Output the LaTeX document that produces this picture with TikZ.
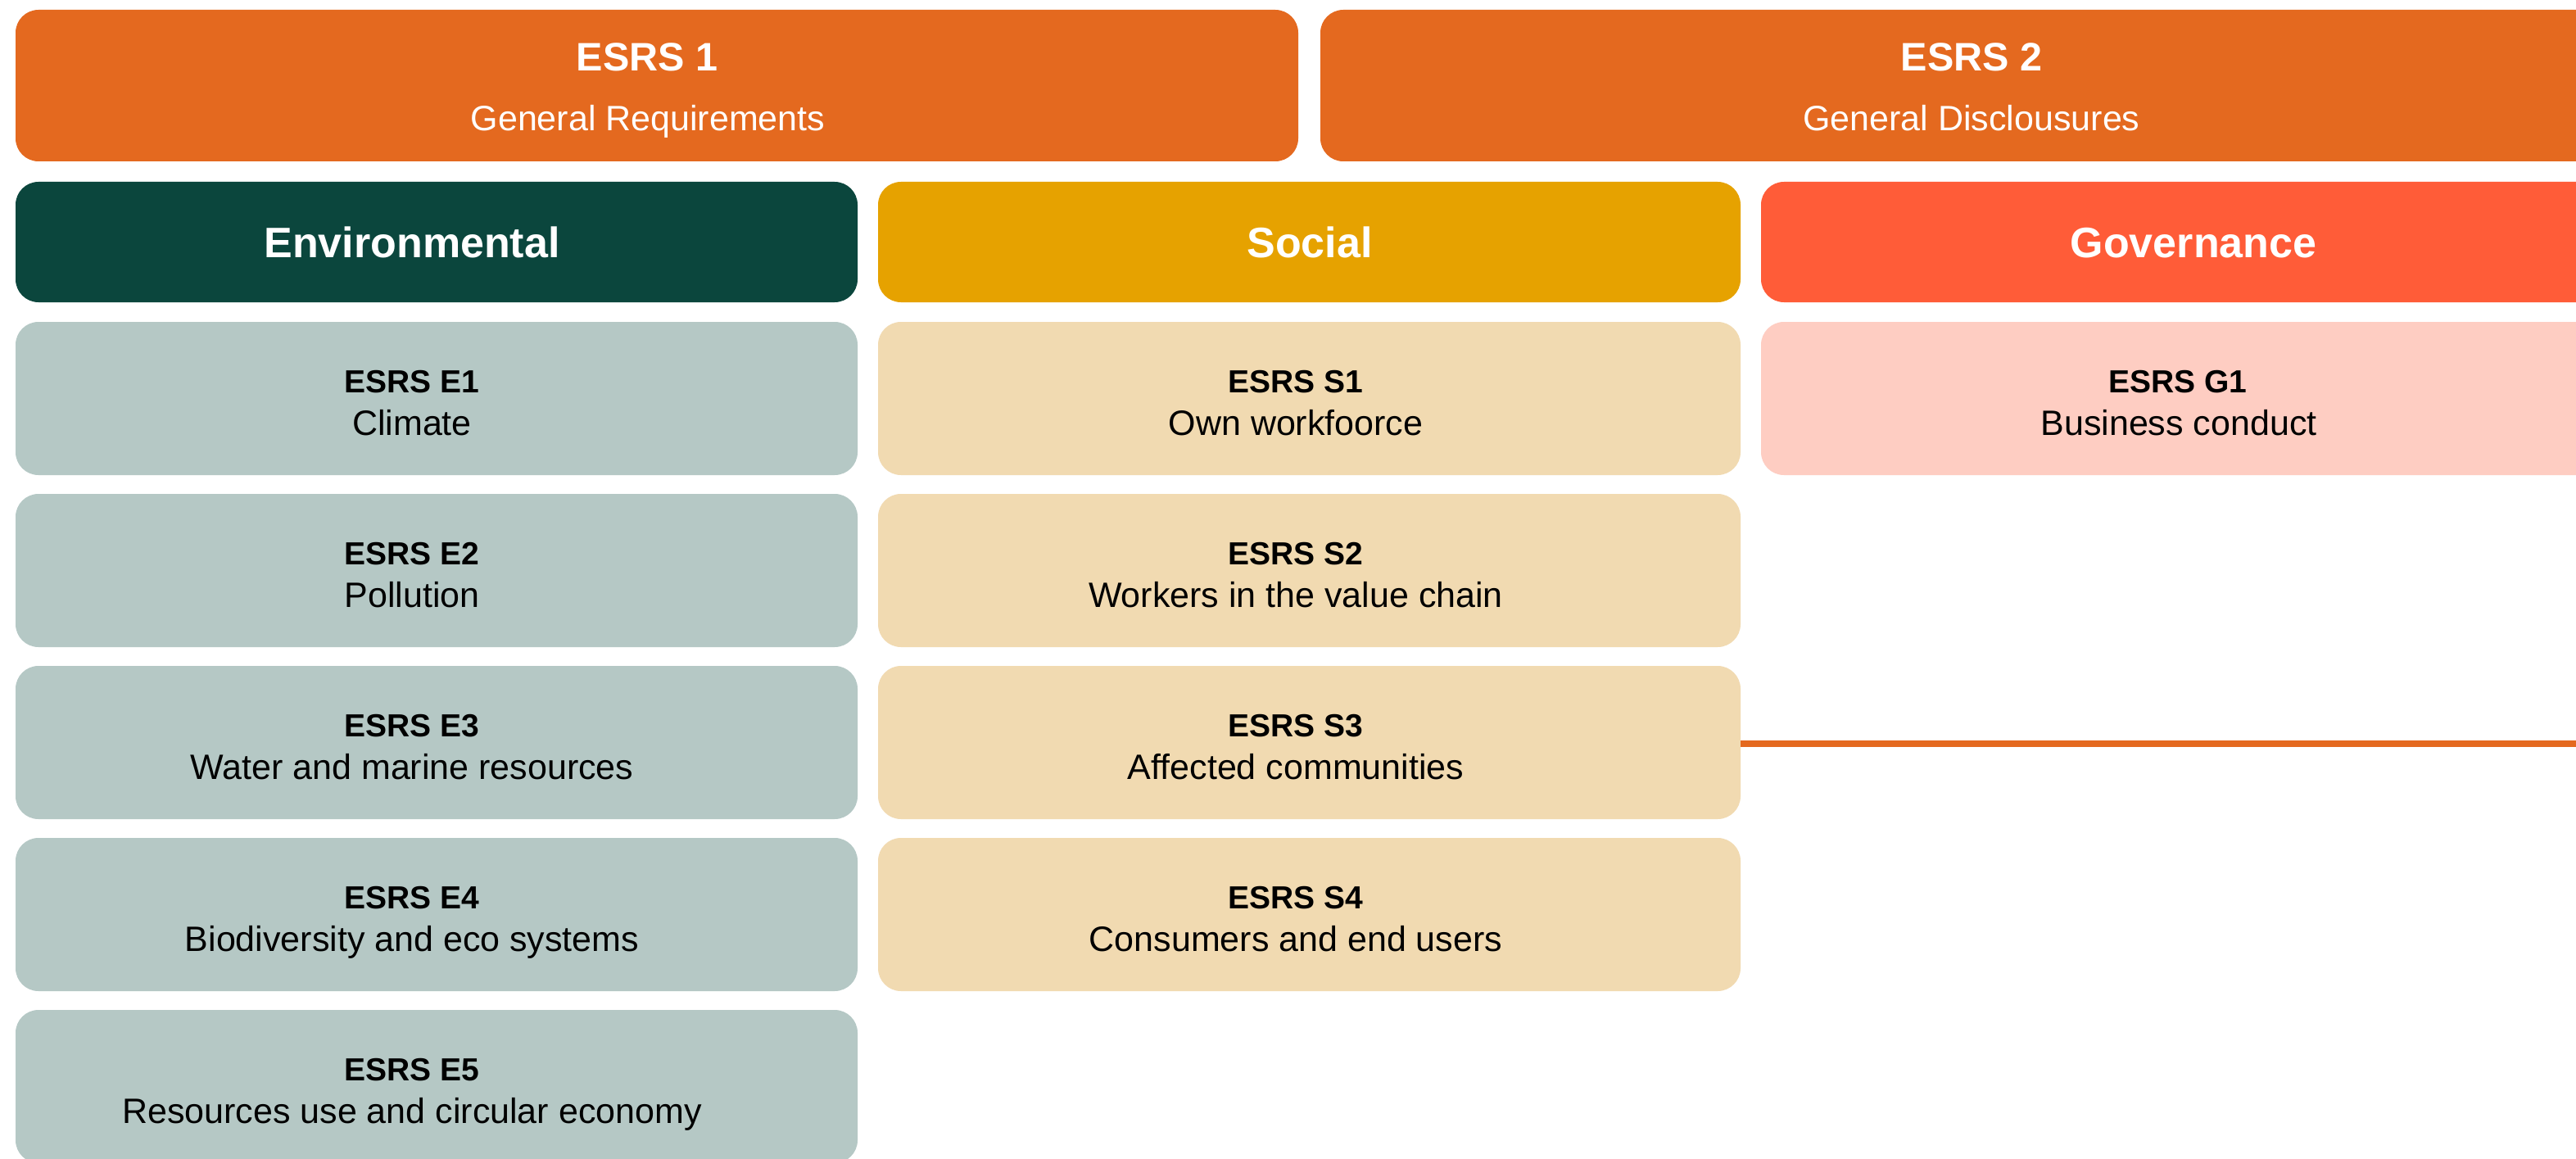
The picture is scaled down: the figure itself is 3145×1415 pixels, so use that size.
\documentclass[tikz,border=0pt]{standalone}
\usepackage{fontspec}
\setmainfont{Liberation Sans}
\definecolor{esrsor}{HTML}{E4691F}
\definecolor{envdark}{HTML}{0B463D}
\definecolor{socdark}{HTML}{E6A200}
\definecolor{govdark}{HTML}{FF5C38}
\definecolor{envlight}{HTML}{B5C8C5}
\definecolor{soclight}{HTML}{F1DAB1}
\definecolor{govlight}{HTML}{FECDC2}
\begin{document}
\begin{tikzpicture}[x=1pt,y=-1pt,
  box/.style={rectangle, rounded corners=28pt, inner sep=0pt, draw=none},
  topbox/.style={box, fill=esrsor, minimum height=185pt},
  headbox/.style={box, minimum height=147pt},
  subbox/.style={box, minimum height=187pt},
  toptitle/.style={anchor=base, inner sep=0pt, text=white, font=\fontsize{48.5}{58}\selectfont\bfseries},
  topsub/.style={anchor=base, inner sep=0pt, text=white, font=\fontsize{43}{52}\selectfont},
  headtitle/.style={anchor=base, inner sep=0pt, text=white, font=\fontsize{52}{62}\selectfont\bfseries},
  subtitle/.style={anchor=base, inner sep=0pt, text=black, font=\fontsize{39}{47}\selectfont\bfseries},
  subtext/.style={anchor=base, inner sep=0pt, text=black, font=\fontsize{43}{52}\selectfont},
  link/.style={draw=esrsor, line width=8pt}
]
\useasboundingbox (0,0) rectangle (3145,1415);
\clip (0,0) rectangle (3145,1415);
\fill[white] (0,0) rectangle (3145,1415);

% top row
\node[topbox, minimum width=1566pt] (esrs1) at (802,104.5) {};
\node[topbox, minimum width=1592pt] (esrs2) at (2408,104.5) {};
\node[toptitle] (esrs1t) at (790,87) {ESRS 1};
\node[topsub] (esrs1s) at (791,160) {General Requirements};
\node[toptitle] (esrs2t) at (2407,87) {ESRS 2};
\node[topsub] (esrs2s) at (2407,160) {General Disclousures};

% headers
\node[headbox, fill=envdark, minimum width=1028pt] (env) at (533,295.5) {};
\node[headbox, fill=socdark, minimum width=1053pt] (soc) at (1598.5,295.5) {};
\node[headbox, fill=govdark, minimum width=1056pt] (gov) at (2678,295.5) {};
\node[headtitle] (envt) at (503,315) {Environmental};
\node[headtitle] (soct) at (1599,315) {Social};
\node[headtitle] (govt) at (2678,315) {Governance};

% environmental column
\foreach \i/\code/\txt in {0/E1/Climate, 1/E2/Pollution, 2/E3/Water and marine resources, 3/E4/Biodiversity and eco systems, 4/E5/Resources use and circular economy}{
  \pgfmathsetmacro{\top}{393+210*\i}
  \node[subbox, fill=envlight, minimum width=1028pt] (box\code) at (533,\top+93.5) {};
  \node[subtitle] (title\code) at (503,\top+86) {ESRS \code};
  \node[subtext] (text\code) at (503,\top+138) {\txt};
}

% social column
\foreach \i/\code/\txt in {0/S1/Own workfoorce, 1/S2/Workers in the value chain, 2/S3/Affected communities, 3/S4/Consumers and end users}{
  \pgfmathsetmacro{\top}{393+210*\i}
  \node[subbox, fill=soclight, minimum width=1053pt] (box\code) at (1598.5,\top+93.5) {};
  \node[subtitle] (title\code) at (1582,\top+86) {ESRS \code};
  \node[subtext] (text\code) at (1582,\top+138) {\txt};
}

% governance column
\node[subbox, fill=govlight, minimum width=1056pt] (boxG1) at (2678,486.5) {};
\node[subtitle] (titleG1) at (2659,479) {ESRS G1};
\node[subtext] (textG1) at (2660,531) {Business conduct};

% connector
\coordinate (lineend) at (3160,908);
\draw[link] (boxS3.east |- 0,908) -- (lineend);
\end{tikzpicture}
\end{document}
